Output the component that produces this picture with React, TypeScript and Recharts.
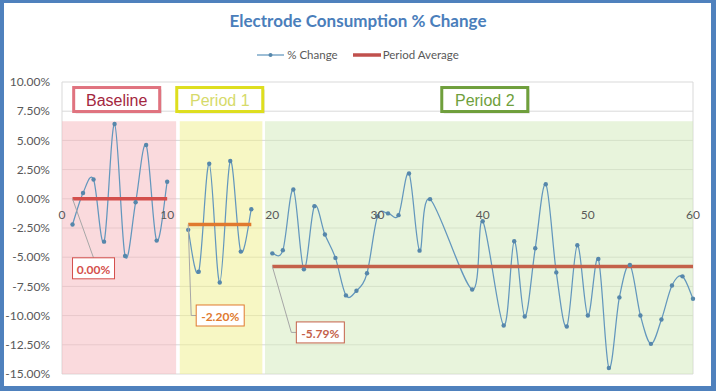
import { LineChart, Line, XAxis, YAxis, CartesianGrid, ReferenceArea, ReferenceDot } from "recharts";

// % change per run, split by period
const baselineRuns = [1, 2, 3, 4, 5, 6, 7, 8, 9, 10];
const baselinePct = [-2.2, 0.5, 1.65, -3.67, 6.4, -4.9, -0.3, 4.6, -3.58, 1.46];

const period1Runs = [12, 13, 14, 15, 16, 17, 18];
const period1Pct = [-2.66, -6.24, 3.0, -7.16, 3.23, -4.52, -0.89];

const period2Runs = [
  20, 21, 22, 23, 24, 25, 26, 27, 28, 29, 30, 31, 32, 33, 34, 35, 39, 40, 42, 43, 44, 45, 46, 47, 48, 49, 50, 51,
  52, 53, 54, 55, 56, 57, 58, 59, 60,
];
const period2Pct = [
  -4.67, -4.41, 0.8, -6.04, -0.63, -3.06, -5.06, -8.27, -7.87, -6.38, -1.5, -1.25, -1.4, 2.17, -4.44, -0.03, -7.76,
  -1.92, -10.85, -3.64, -10.08, -4.24, 1.25, -6.3, -10.93, -3.98, -9.99, -5.15, -14.48, -8.44, -5.67, -9.99, -12.42,
  -10.33, -7.42, -6.64, -8.56,
];

// period averages and their labels
const periodNames = ["Baseline", "Period 1", "Period 2"];
const periodAverages = [0, -2.2, -5.79];
const periodFirstRun = [1, 12, 20];
const periodLastRun = [10, 18, 60];
// shaded background spans (x from / to)
const periodShadeFrom = [0, 11.2, 19.3];
const periodShadeTo = [10.85, 19.05, 60];
const periodShadeTop = 6.65;
const periodNameX = [5.2, 15, 40.2];

const xTicks = [0, 10, 20, 30, 40, 50, 60];
const yTicks = [-15, -12.5, -10, -7.5, -5, -2.5, 0, 2.5, 5, 7.5, 10];

const shadeColors = ["#f5b5bb", "#efef89", "#d1e9b9"];
const boxBorders = ["#e0737f", "#dede1e", "#6f9f3c"];
const boxText = ["#a3263e", "#d6da6a", "#6f9f3c"];
const avgColors = ["#d44f4c", "#e07a2e", "#c4614a"];
const lineColor = "#6397bd";
const dotColor = "#5687ab";

// offsets of the average data-label boxes relative to the start of each average line
const avgLabelBend = [
  [21, 59],
  [3, 91],
  [19, 66],
];

const toRows = (runs: number[], vals: number[]) => runs.map((x, i) => ({ x, pct: vals[i] }));
const series = [toRows(baselineRuns, baselinePct), toRows(period1Runs, period1Pct), toRows(period2Runs, period2Pct)];

// Excel style smoothed line (Catmull-Rom through the points)
const excelSmooth: any = (context: any) => {
  let pts: number[][] = [];
  return {
    areaStart() {},
    areaEnd() {},
    lineStart() {
      pts = [];
    },
    point(x: number, y: number) {
      pts.push([+x, +y]);
    },
    lineEnd() {
      if (!pts.length) return;
      context.moveTo(pts[0][0], pts[0][1]);
      for (let i = 0; i < pts.length - 1; i++) {
        const p0 = pts[Math.max(i - 1, 0)];
        const p1 = pts[i];
        const p2 = pts[i + 1];
        const p3 = pts[Math.min(i + 2, pts.length - 1)];
        context.bezierCurveTo(
          p1[0] + (p2[0] - p0[0]) / 6,
          p1[1] + (p2[1] - p0[1]) / 6,
          p2[0] - (p3[0] - p1[0]) / 6,
          p2[1] - (p3[1] - p1[1]) / 6,
          p2[0],
          p2[1]
        );
      }
    },
  };
};

const font = "Lato, 'Open Sans', sans-serif";

const XTickLabel = (props: any) => {
  const { viewBox, value } = props;
  const cx = viewBox.x + viewBox.width / 2;
  const cy = viewBox.y + viewBox.height / 2;
  return (
    <text x={cx} y={cy + 16} textAnchor="middle" dominantBaseline="central" fontSize={12} fill="#595959" fontFamily={font}>
      {value}
    </text>
  );
};

const PeriodBox = (props: any) => {
  const { viewBox, idx } = props;
  const cx = viewBox.x + viewBox.width / 2;
  const cy = viewBox.y + viewBox.height / 2;
  const w = 86;
  const h = 24;
  return (
    <g>
      <rect x={cx - w / 2 + 2} y={cy - h / 2 + 2} width={w} height={h} fill="#000" opacity={0.12} />
      <rect x={cx - w / 2} y={cy - h / 2} width={w} height={h} fill="#fff" stroke={boxBorders[idx]} strokeWidth={3} />
      <text x={cx} y={cy + 1} textAnchor="middle" dominantBaseline="central" fontSize={16} fill={boxText[idx]} fontFamily="'Liberation Sans', Arial, sans-serif">
        {periodNames[idx]}
      </text>
    </g>
  );
};

const AvgLabel = (props: any) => {
  const { viewBox, idx } = props;
  const cx = viewBox.x + viewBox.width / 2;
  const cy = viewBox.y + viewBox.height / 2;
  const [dx, dy] = avgLabelBend[idx];
  const w = idx === 0 ? 42 : 48;
  const h = 21;
  const text = periodAverages[idx].toFixed(2) + "%";
  const bx = idx === 0 ? cx + dx - w / 2 : cx + dx + 5;
  const by = idx === 0 ? cy + dy : cy + dy - h / 2;
  const boxCy = by + h / 2;
  return (
    <g>
      {idx === 0 ? (
        <line x1={cx} y1={cy} x2={cx + dx} y2={cy + dy} stroke="#a6a6a6" strokeWidth={1} />
      ) : (
        <polyline points={`${cx},${cy} ${cx + dx},${cy + dy} ${bx},${cy + dy}`} fill="none" stroke="#a6a6a6" strokeWidth={1} />
      )}
      <rect x={bx} y={by} width={w} height={h} fill="#fff" stroke={avgColors[idx]} strokeWidth={1} />
      <text x={bx + w / 2} y={boxCy + 1} textAnchor="middle" dominantBaseline="central" fontSize={12} fontWeight="bold" fill={avgColors[idx]} fontFamily={font}>
        {text}
      </text>
    </g>
  );
};

export default function App() {
  return (
    <div style={{ position: "absolute", left: 0, top: 0, width: 716, height: 391, background: "#fff", fontFamily: font }}>
      <div
        style={{
          position: "absolute",
          top: 10,
          left: 0,
          width: 716,
          textAlign: "center",
          fontSize: 17,
          fontWeight: "bold",
          color: "#4a7ebb",
          lineHeight: "22px",
        }}
      >
        Electrode Consumption % Change
      </div>
      <div
        style={{
          position: "absolute",
          top: 47,
          left: 0,
          width: 716,
          display: "flex",
          justifyContent: "center",
          alignItems: "center",
          fontSize: 11.5,
          color: "#595959",
          lineHeight: "16px",
        }}
      >
        <svg width={27} height={10} style={{ marginRight: 3 }}>
          <line x1={0} y1={5} x2={27} y2={5} stroke={lineColor} strokeWidth={1.25} />
          <circle cx={13.5} cy={5} r={2} fill={dotColor} />
        </svg>
        <span style={{ marginRight: 15 }}>% Change</span>
        <svg width={28} height={10} style={{ marginRight: 2 }}>
          <line x1={0} y1={5} x2={28} y2={5} stroke="#c0504d" strokeWidth={3.5} />
        </svg>
        <span>Period Average</span>
      </div>

      <LineChart width={716} height={391} margin={{ top: 82, right: 23, bottom: 17, left: 4 }} style={{ position: "absolute", left: 0, top: 0 }}>
        {periodNames.map((n, i) => (
          <ReferenceArea
            key={"shade-" + n}
            x1={periodShadeFrom[i]}
            x2={periodShadeTo[i]}
            y1={-15}
            y2={periodShadeTop}
            fill={shadeColors[i]}
            fillOpacity={0.5}
            stroke="none"
          />
        ))}
        <CartesianGrid stroke="#d9d9d9" strokeWidth={1} />
        <XAxis
          type="number"
          dataKey="x"
          domain={[0, 60]}
          ticks={xTicks}
          allowDuplicatedCategory={false}
          height={0}
          tick={false}
          tickLine={false}
          axisLine={false}
        />
        <YAxis
          type="number"
          domain={[-15, 10]}
          ticks={yTicks}
          width={58}
          axisLine={false}
          tickLine={false}
          tickSize={6}
          tickMargin={6}
          tick={{ fontSize: 12, fill: "#595959", fontFamily: font }}
          tickFormatter={(v: number) => v.toFixed(2) + "%"}
        />
        {series.map((rows, i) => (
          <Line
            key={"pct-" + i}
            data={rows}
            dataKey="pct"
            type={excelSmooth}
            stroke={lineColor}
            strokeWidth={1.25}
            dot={{ r: 2.2, fill: dotColor, stroke: "none" }}
            activeDot={false}
            isAnimationActive={false}
            legendType="none"
          />
        ))}
        {periodNames.map((n, i) => (
          <Line
            key={"avg-" + n}
            data={[
              { x: periodFirstRun[i], avg: periodAverages[i] },
              { x: periodLastRun[i], avg: periodAverages[i] },
            ]}
            dataKey="avg"
            type="linear"
            stroke={avgColors[i]}
            strokeWidth={3.5}
            dot={false}
            activeDot={false}
            isAnimationActive={false}
            legendType="none"
          />
        ))}
        {xTicks.map((t) => (
          <ReferenceDot key={"xt-" + t} x={t} y={0} r={0} fill="none" stroke="none" label={{ content: (p: any) => <XTickLabel {...p} value={t} /> }} />
        ))}
        {periodNames.map((n, i) => (
          <ReferenceDot
            key={"avglbl-" + n}
            x={periodFirstRun[i]}
            y={periodAverages[i]}
            r={0}
            fill="none"
            stroke="none"
            label={{ content: (p: any) => <AvgLabel {...p} idx={i} /> }}
          />
        ))}
        {periodNames.map((n, i) => (
          <ReferenceDot
            key={"name-" + n}
            x={periodNameX[i]}
            y={8.5}
            r={0}
            fill="none"
            stroke="none"
            label={{ content: (p: any) => <PeriodBox {...p} idx={i} /> }}
          />
        ))}
      </LineChart>
      <div
        style={{
          position: "absolute",
          left: 0,
          top: 0,
          width: 716,
          height: 391,
          boxSizing: "border-box",
          borderStyle: "solid",
          borderColor: "#4f81bd",
          borderWidth: "3px 5px 5px 4px",
          pointerEvents: "none",
        }}
      />
    </div>
  );
}
